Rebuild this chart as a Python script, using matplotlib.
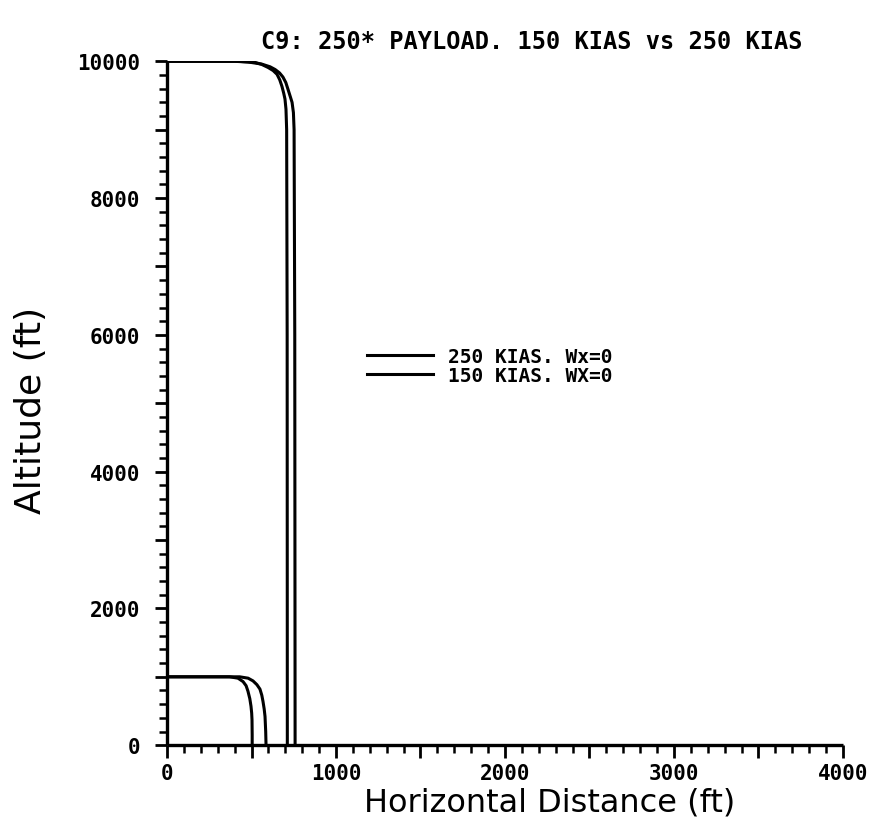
"""
C9 trajectory comparison: 250# payload, 150 KIAS vs 250 KIAS
"""
import matplotlib
matplotlib.use("Agg")
import matplotlib.pyplot as plt
from matplotlib.ticker import MultipleLocator, FuncFormatter

# drop from 10000 ft
hi_250_x = [0, 400, 480, 560, 610, 640, 666, 686, 703, 716, 730, 740, 748, 752, 756, 758]
hi_250_y = [10000, 10000, 9990, 9960, 9920, 9880, 9830, 9770, 9690, 9590, 9480, 9400, 9250, 9000, 6000, 0]
hi_150_x = [0, 420, 520, 560, 598, 628, 651, 667, 680, 690, 698, 704, 708, 711, 712]
hi_150_y = [10000, 10000, 9985, 9955, 9910, 9865, 9810, 9730, 9635, 9540, 9450, 9300, 9000, 6000, 0]

# drop from 1000 ft
lo_250_x = [0, 430, 480, 509, 532, 550, 561, 568, 575, 580, 584, 586]
lo_250_y = [1000, 1000, 980, 940, 885, 820, 730, 640, 530, 420, 200, 0]
lo_150_x = [0, 370, 420, 450, 468, 479, 490, 497, 501, 503, 504, 504]
lo_150_y = [1000, 1000, 980, 930, 870, 790, 680, 570, 470, 370, 150, 0]

FONT_TICK = "DejaVu Sans Mono"
FONT_LAB = "DejaVu Sans"

fig = plt.figure(figsize=(8.79, 8.20), dpi=100)
ax = fig.add_axes([0.190, 0.090, 0.769, 0.834])

lw = 2.2
ax.plot(hi_250_x, hi_250_y, color="black", lw=lw, label="250 KIAS. Wx=0")
ax.plot(hi_150_x, hi_150_y, color="black", lw=lw, label="150 KIAS. WX=0")
ax.plot(lo_250_x, lo_250_y, color="black", lw=lw)
ax.plot(lo_150_x, lo_150_y, color="black", lw=lw)

ax.set_xlim(0, 4000)
ax.set_ylim(0, 10000)
for s in ["top", "right"]:
    ax.spines[s].set_visible(False)
for s in ["left", "bottom"]:
    ax.spines[s].set_linewidth(2.4)
    ax.spines[s].set_capstyle("butt")

ax.xaxis.set_major_locator(MultipleLocator(500))
ax.xaxis.set_minor_locator(MultipleLocator(100))
ax.yaxis.set_major_locator(MultipleLocator(1000))
ax.yaxis.set_minor_locator(MultipleLocator(200))
ax.xaxis.set_major_formatter(FuncFormatter(lambda v, p: f"{int(v)}" if v % 1000 == 0 else ""))
ax.yaxis.set_major_formatter(FuncFormatter(lambda v, p: f"{int(v)}" if v % 2000 == 0 else ""))
ax.tick_params(which="major", direction="out", length=9, width=2.0, pad=4)
ax.tick_params(which="minor", direction="out", length=6, width=1.8)
ax.tick_params(axis="y", which="major", pad=10)
for lab in ax.get_xticklabels() + ax.get_yticklabels():
    lab.set_fontfamily(FONT_TICK)
    lab.set_fontweight("bold")
    lab.set_fontsize(15)

ax.legend(loc="upper left", bbox_to_anchor=(357 / 879, 1 - 338 / 820),
          bbox_transform=fig.transFigure, frameon=False, borderpad=0,
          handlelength=3.4, handletextpad=0.8, labelspacing=0.0,
          prop={"family": FONT_TICK, "weight": "bold", "size": 14})

fig.text(0.605, 0.949, "C9: 250* PAYLOAD. 150 KIAS vs 250 KIAS",
         ha="center", va="center", family=FONT_TICK, weight="bold", fontsize=17)
fig.text(0.035, 0.50, "Altitude (ft)", rotation=90, ha="center", va="center",
         family=FONT_LAB, fontsize=26)
fig.text(0.625, 0.021, "Horizontal Distance (ft)", ha="center", va="center",
         family=FONT_LAB, fontsize=23)

plt.savefig("out.png", dpi=100)
